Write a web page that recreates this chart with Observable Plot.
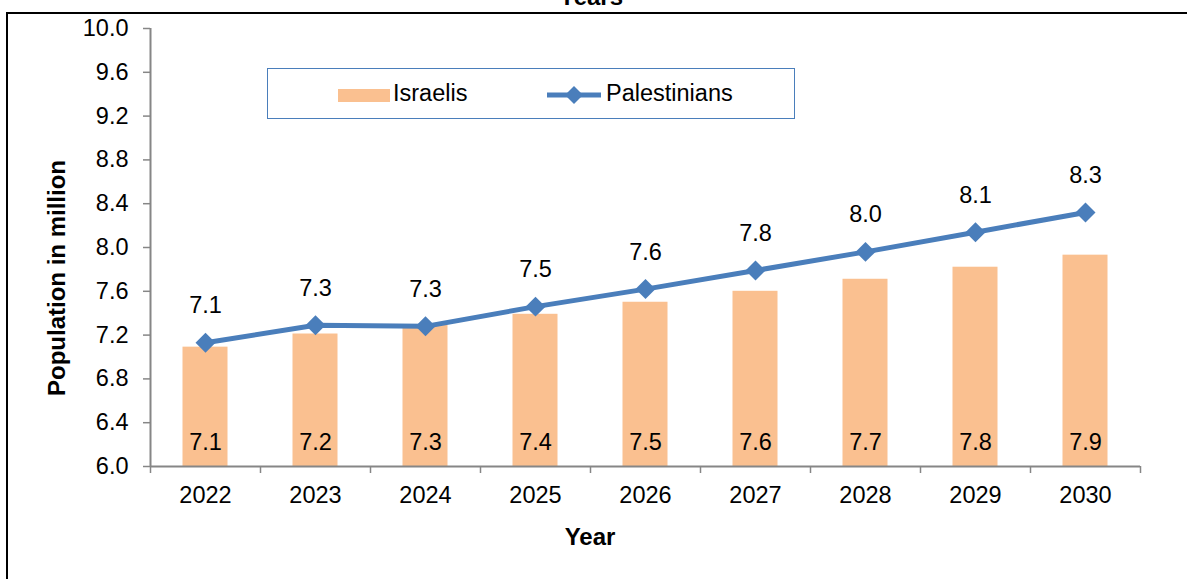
<!DOCTYPE html>
<html>
<head>
<meta charset="utf-8">
<script src="https://cdn.jsdelivr.net/npm/d3@7"></script>
<script src="https://cdn.jsdelivr.net/npm/@observablehq/plot@0.6"></script>
<style>
  html, body { margin: 0; padding: 0; background: #fff; }
  #wrap { position: relative; width: 1187px; height: 579px; overflow: hidden; font-family: "Liberation Sans", Arial, sans-serif; color: #000; }
  #wrap > svg { position: absolute; left: 0; top: 0; }
  #wrap > svg g[aria-label*="axis"] line,
  #wrap > svg g[aria-label*="axis"] path { stroke: #868686; stroke-width: 1.5px; }
  #wrap > svg g[aria-label*="axis"] text { fill: #000; }
  .ov { position: absolute; white-space: nowrap; }
  #frame { position: absolute; left: 6px; top: 12px; width: 1220px; height: 620px; border: 2px solid #000; box-sizing: border-box; }
  #title { left: 0; width: 1182px; text-align: center; top: -17px; font-weight: bold; font-size: 24px; }
  #ylab { left: 57px; top: 278px; transform: translate(-50%, -50%) rotate(-90deg); font-weight: bold; font-size: 24px; }
  #xlab { left: 590px; top: 537px; transform: translate(-50%, -50%); font-weight: bold; font-size: 24px; }
  #legend { position: absolute; left: 267px; top: 68px; width: 528px; height: 51px; border: 1.5px solid #4A7EBB; box-sizing: border-box; font-size: 23.5px; }
  .sw { position: absolute; }
</style>
</head>
<body>
<div id="wrap">
  <div id="frame"></div>
  <div id="title" class="ov">Years</div>
  <div id="ylab" class="ov">Population in million</div>
  <div id="xlab" class="ov">Year</div>
  <div id="legend">
    <div class="sw" style="left:70px; top:20px; width:52px; height:13px; background:#FAC090;"></div>
    <div class="ov" style="left:125px; top:11px;">Israelis</div>
    <svg class="sw" style="left:278px; top:14px;" width="56" height="24">
      <line x1="1" y1="12" x2="55" y2="12" stroke="#4A7EBB" stroke-width="5"/>
      <path d="M28,3 L37,12 L28,21 L19,12 Z" fill="#4A7EBB"/>
    </svg>
    <div class="ov" style="left:338px; top:11px;">Palestinians</div>
  </div>
</div>
<script>
const years = [2022, 2023, 2024, 2025, 2026, 2027, 2028, 2029, 2030];
const israelis = [7.09, 7.21, 7.29, 7.39, 7.50, 7.60, 7.71, 7.82, 7.93];
const palestinians = [7.13, 7.29, 7.28, 7.46, 7.62, 7.79, 7.96, 8.14, 8.32];
const yTicks = [6.0, 6.4, 6.8, 7.2, 7.6, 8.0, 8.4, 8.8, 9.2, 9.6, 10.0];

const data = years.map((year, i) => ({year, isr: israelis[i], pal: palestinians[i]}));
const boundaries = [years[0] - 0.5, ...years.map(y => y + 0.5)];
const axisGray = "#868686";
const blue = "#4A7EBB";

const chart = Plot.plot({
  width: 1187,
  height: 579,
  marginLeft: 150,
  marginRight: 47,
  marginTop: 28,
  marginBottom: 113,
  style: {fontFamily: "'Liberation Sans', Arial, sans-serif", fontSize: "23.5px", color: "#000", background: "transparent", overflow: "visible"},
  x: {type: "linear", domain: [boundaries[0], boundaries[boundaries.length - 1]], ticks: boundaries, tickSize: 7, tickFormat: () => "", label: null},
  y: {domain: [yTicks[0], yTicks[yTicks.length - 1]], ticks: yTicks, tickSize: 7, tickPadding: 15, tickFormat: d => d.toFixed(1), label: null},
  marks: [
    Plot.rectY(data, {x1: d => d.year - 0.5, x2: d => d.year + 0.5, y1: yTicks[0], y2: "isr", insetLeft: 32.5, insetRight: 32.5, fill: "#FAC090"}),
    Plot.ruleY([yTicks[0]], {stroke: axisGray, strokeWidth: 2}),
    Plot.ruleX([boundaries[0]], {y1: yTicks[0], y2: yTicks[yTicks.length - 1], stroke: axisGray, strokeWidth: 2}),
    Plot.text(data, {x: "year", y: yTicks[0], text: d => String(d.year), dy: 29, fill: "#000"}),
    Plot.line(data, {x: "year", y: "pal", stroke: blue, strokeWidth: 5}),
    Plot.dot(data, {x: "year", y: "pal", symbol: "diamond2", r: 9, fill: blue, stroke: "none"}),
    Plot.text(data, {x: "year", y: "pal", text: d => d.pal.toFixed(1), dy: -37, fill: "#000"}),
    Plot.text(data, {x: "year", y: yTicks[0], text: d => d.isr.toFixed(1), dy: -24, fill: "#000"})
  ]
});
document.getElementById("wrap").insertBefore(chart, document.getElementById("frame"));
</script>
</body>
</html>
